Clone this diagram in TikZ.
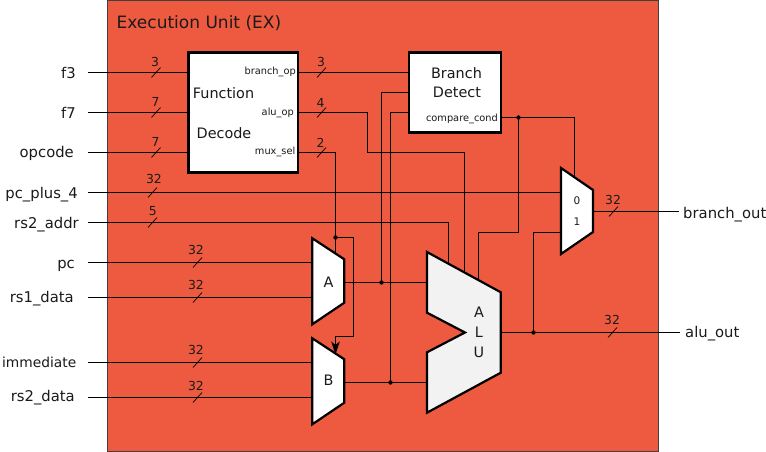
\documentclass[tikz,border=0pt]{standalone}
\usepackage{fontspec}
\setmainfont{DejaVu Sans}
\usetikzlibrary{arrows.meta,calc}
\definecolor{exfill}{HTML}{EE5A3F}
\definecolor{alufill}{HTML}{F2F2F2}
\definecolor{inktext}{HTML}{1A1A1A}
\newcommand{\fsz}[1]{\fontsize{#1}{#1}\selectfont}
\tikzset{
  wire/.style={line width=1pt,draw=black},
  slashmark/.style={line width=0.7pt,draw=black},
  unitbox/.style={draw=black,line width=2.4pt,fill=white,inner sep=0pt,outer sep=0pt,anchor=north west},
  hull/.style={draw=black,line width=2.2pt,miter limit=10,line join=miter},
  sig/.style={inner sep=0pt,text=inktext,font=\fsz{14.8}},
  blocktext/.style={inner sep=0pt,text=inktext,font=\fsz{14.4}},
  porttext/.style={inner sep=0pt,text=inktext,font=\fsz{9.8}},
  widthtext/.style={inner sep=0pt,text=inktext,font=\fsz{12.4}},
  dotjoin/.style={circle,fill=black,inner sep=0pt,minimum size=4.4pt},
}
% name, x, y of slash centre, x, y of label centre, label
\newcommand{\busmark}[6]{%
  \draw[slashmark] (#2-4.5,#3+5) -- (#2+4.5,#3-5);
  \node[widthtext] (#1) at (#4,#5) {#6};
}
\begin{document}
\begin{tikzpicture}[x=1pt,y=-1pt]
\useasboundingbox (0,0) rectangle (766,452);
\node[draw=black!75,line width=1pt,fill=exfill,inner sep=0pt,outer sep=0pt,anchor=north west,
      minimum width=551pt,minimum height=451pt] (ex) at (107.5,0.5) {};
\node[anchor=base west,inner sep=0pt,text=inktext,font=\fsz{17}] (extitle) at (116.5,28.7) {Execution Unit (EX)};

% blocks
\node[unitbox,minimum width=109.5pt,minimum height=120pt] (fd) at (188.5,52.5) {};
\node[unitbox,minimum width=92pt,minimum height=80pt] (bd) at (409,52.5) {};
% placeholders that name the trapezoids
\node[inner sep=0pt,outer sep=0pt,minimum width=32pt,minimum height=86pt] (muxa) at (328.3,281.3) {};
\node[inner sep=0pt,outer sep=0pt,minimum width=32pt,minimum height=86pt] (muxb) at (328.3,381.3) {};
\node[inner sep=0pt,outer sep=0pt,minimum width=32pt,minimum height=86pt] (muxc) at (577,211) {};
\node[inner sep=0pt,outer sep=0pt,minimum width=74pt,minimum height=160pt] (alu) at (464,332.5) {};

% free ends
\coordinate (inf3) at (88,72.5);
\coordinate (inf7) at (88,112.5);
\coordinate (inop) at (88,152.5);
\coordinate (inpc4) at (88,192.5);
\coordinate (inrs2a) at (88,222.5);
\coordinate (inpc) at (88,262.5);
\coordinate (inrs1) at (88,297.5);
\coordinate (inimm) at (88,362.5);
\coordinate (inrs2) at (88,397.5);
\coordinate (outbr) at (679,211.5);
\coordinate (outalu) at (680,332.5);

% junctions
\coordinate (jsel) at (335.5,237.5);
\coordinate (ja) at (381.5,282.5);
\coordinate (jb) at (390.5,382.5);
\coordinate (jc) at (518.5,117.5);
\coordinate (jr) at (533.5,332.5);

% input wires
\draw[wire] (inf3) -- (inf3 -| fd.west);
\draw[wire] (inf7) -- (inf7 -| fd.west);
\draw[wire] (inop) -- (inop -| fd.west);
\draw[wire] (inpc4) -- (inpc4 -| muxc.west);
\draw[wire] (inrs2a) -| (448.5,270);
\draw[wire] (inpc) -- (inpc -| muxa.west);
\draw[wire] (inrs1) -- (inrs1 -| muxa.west);
\draw[wire] (inimm) -- (inimm -| muxb.west);
\draw[wire] (inrs2) -- (inrs2 -| muxb.west);

% function decode outputs
\draw[wire] (fd.east |- 0,72.5) -- (bd.west |- 0,72.5);
\draw[wire] (fd.east |- 0,112.5) -| (367.5,152.5) -| (464.5,285);
\draw[wire] (fd.east |- 0,152.5) -| (jsel) -- (335.5,262);
\draw[wire] (jsel) -| (353.5,336.5) -| (335.5,342);

% mux outputs
\draw[wire] (muxa.east |- ja) -- (ja -| alu.west);
\draw[wire] (muxb.east |- jb) -- (jb -| alu.west);
\draw[wire] (ja) |- (bd.west |- 0,92.5);
\draw[wire] (jb) |- (bd.west |- 0,112.5);

% compare_cond
\draw[wire] (bd.east |- jc) -| (574.5,178);
\draw[wire] (jc) |- (478.5,232.5) -- (478.5,285);

% outputs
\draw[wire] (muxc.east |- outbr) -- (outbr);
\draw[wire] (alu.east |- outalu) -- (outalu);
\draw[wire] (jr) |- (muxc.west |- 0,232.5);

% trapezoids on top of the wires
\draw[hull,fill=white] (312.3,238.3) -- (344.3,259.3) -- (344.3,302.7) -- (312.3,324.3) -- cycle;
\draw[hull,fill=white] (312.3,338.3) -- (344.3,359.3) -- (344.3,402.7) -- (312.3,424.3) -- cycle;
\draw[hull,fill=white] (561,168) -- (593,190) -- (593,232) -- (561,254) -- cycle;
\draw[hull,fill=alufill] (427,252) -- (500.8,292.3) -- (500.8,372.7) -- (427,412.7) -- (427,352.3) -- (465,332.5) -- (427,312.7) -- cycle;
\draw[wire,-{Stealth[length=13pt,width=8.5pt,inset=3.5pt]}] (335.5,340) -- (335.5,354.5);

% junction dots
\node[dotjoin] (djsel) at (jsel) {};
\node[dotjoin] (dja) at (ja) {};
\node[dotjoin] (djb) at (jb) {};
\node[dotjoin] (djc) at (jc) {};
\node[dotjoin] (djr) at (jr) {};

% bus marks
\busmark{w1}{156}{72.5}{155}{62}{3}
\busmark{w2}{156}{112.5}{155.5}{102}{7}
\busmark{w3}{156}{152.5}{155.5}{142}{7}
\busmark{w4}{152.5}{192.5}{154}{178.5}{32}
\busmark{w5}{152.5}{222.5}{152.7}{211}{5}
\busmark{w6}{321.5}{72.5}{321}{62}{3}
\busmark{w7}{321.5}{112.5}{320.5}{103}{4}
\busmark{w8}{321.5}{152.5}{320.5}{143}{2}
\busmark{w9}{197.5}{262.5}{196}{250}{32}
\busmark{w10}{197.5}{297.5}{196}{285}{32}
\busmark{w11}{197.5}{362.5}{196}{350}{32}
\busmark{w12}{197.5}{397.5}{196}{386}{32}
\busmark{w13}{613.5}{211.5}{613}{199.5}{32}
\busmark{w14}{612.5}{332.5}{612}{320}{32}

% signal labels
\node[sig,anchor=base east] (lf3) at (76,78) {f3};
\node[sig,anchor=base east] (lf7) at (76,118) {f7};
\node[sig,anchor=base east] (lop) at (74,157.5) {opcode};
\node[sig,anchor=base east] (lpc4) at (78,198) {pc\_plus\_4};
\node[sig,anchor=base east] (lrs2a) at (79,228) {rs2\_addr};
\node[sig,anchor=base east] (lpc) at (75,268) {pc};
\node[sig,anchor=base east] (lrs1) at (74,302) {rs1\_data};
\node[sig,anchor=base east,font=\fsz{13.8}] (limm) at (76.5,367.5) {immediate};
\node[sig,anchor=base east] (lrs2) at (75,401.5) {rs2\_data};
\node[sig,anchor=base west] (lbr) at (683,218.5) {branch\_out};
\node[sig,anchor=base west] (lalu) at (685,337) {alu\_out};

% block texts
\node[blocktext,anchor=base] (tfn) at (223.5,98.5) {Function};
\node[blocktext,anchor=base] (tdc) at (224,138) {Decode};
\node[blocktext,anchor=base] (tbr) at (456.5,78) {Branch};
\node[blocktext,anchor=base] (tde) at (457,98) {Detect};
\node[porttext,anchor=base east] (pbr) at (296,74.3) {branch\_op};
\node[porttext,anchor=base east] (pal) at (294,115.5) {alu\_op};
\node[porttext,anchor=base east] (pmx) at (295.5,154) {mux\_sel};
\node[porttext,anchor=base east] (pcc) at (498,121.5) {compare\_cond};
\node[blocktext,anchor=center] (ta) at (328.5,282) {A};
\node[blocktext,anchor=center] (tb) at (328.5,380.5) {B};
\node[porttext,anchor=center,font=\fsz{10.5}] (t0) at (577,200.5) {0};
\node[porttext,anchor=center,font=\fsz{10.5}] (t1) at (577,222) {1};
\node[blocktext,anchor=center] (ta1) at (479,312) {A};
\node[blocktext,anchor=center] (ta2) at (479,332) {L};
\node[blocktext,anchor=center] (ta3) at (479,352) {U};
\end{tikzpicture}
\end{document}
